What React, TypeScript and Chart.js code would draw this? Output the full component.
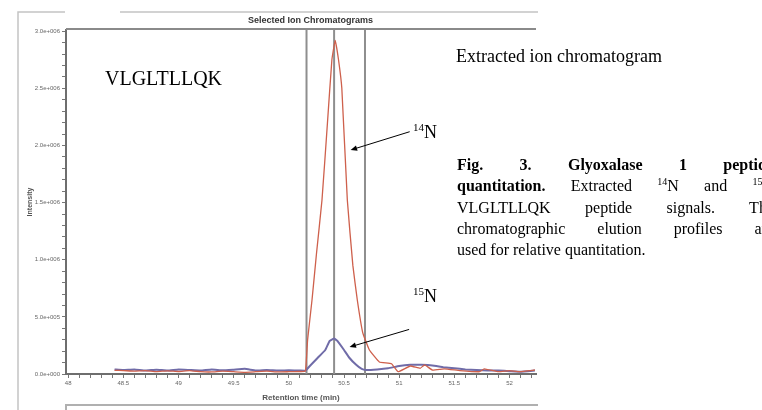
import React, { useEffect, useRef } from 'react';
import { Chart, registerables } from 'chart.js';

Chart.register(...registerables);

// 14N trace (red): retention time (min) and intensity
const redTimes = [48.42, 48.5, 48.6, 48.7, 48.8, 48.9, 49.0, 49.1, 49.2, 49.3, 49.4, 49.5, 49.6, 49.7, 49.8, 49.9, 50.0, 50.1, 50.15,
  50.17, 50.21, 50.25, 50.3, 50.35, 50.39, 50.42, 50.45, 50.48, 50.53, 50.58, 50.62, 50.67, 50.73, 50.82, 50.93, 50.99,
  51.1, 51.19, 51.23, 51.3, 51.41, 51.55, 51.73, 51.77, 51.9, 52.0, 52.09, 52.23];
const redIntensity = [3.2e4, 3.0e4, 2.5e4, 3.0e4, 2.0e4, 2.8e4, 2.2e4, 3.0e4, 2.0e4, 1.8e4, 2.5e4, 2.0e4, 1.5e4, 2.0e4, 2.5e4, 1.8e4, 2.0e4, 2.2e4, 2.5e4,
  3.0e5, 6.5e5, 1.05e6, 1.52e6, 2.2e6, 2.75e6, 2.92e6, 2.75e6, 2.5e6, 1.52e6, 9.5e5, 6.5e5, 3.6e5, 2.1e5, 1.05e5, 9.0e4, 2.0e4,
  7.0e4, 5.0e4, 8.0e4, 3.5e4, 4.5e4, 3.0e4, 2.0e4, 4.5e4, 2.0e4, 3.0e4, 2.0e4, 3.5e4];

// 15N trace (blue)
const blueTimes = [48.42, 48.5, 48.6, 48.7, 48.8, 48.9, 49.0, 49.1, 49.2, 49.3, 49.4, 49.5, 49.6, 49.7, 49.8, 49.9, 50.0, 50.1, 50.15,
  50.19, 50.26, 50.33, 50.37, 50.41, 50.44, 50.5, 50.55, 50.61, 50.66, 50.7, 50.8, 50.9, 51.0, 51.1, 51.2, 51.3, 51.4, 51.5,
  51.6, 51.7, 51.8, 51.9, 52.0, 52.1, 52.23];
const blueIntensity = [4.0e4, 3.5e4, 4.0e4, 3.0e4, 3.8e4, 3.0e4, 4.0e4, 3.5e4, 3.0e4, 4.0e4, 3.2e4, 3.8e4, 4.5e4, 3.0e4, 3.5e4, 3.0e4, 3.2e4, 3.0e4, 3.0e4,
  7.0e4, 1.4e5, 2.1e5, 2.9e5, 3.1e5, 2.9e5, 2.1e5, 1.4e5, 8.0e4, 4.4e4, 3.5e4, 4.0e4, 5.0e4, 7.0e4, 8.0e4, 8.0e4, 7.5e4, 6.0e4, 5.0e4,
  4.0e4, 3.5e4, 3.0e4, 3.0e4, 2.5e4, 2.0e4, 3.0e4];

// integration boundary / apex markers (retention time)
const markerTimes = [50.16, 50.41, 50.69];

// axis ranges and tick steps
const xMin = 47.98;
const xMax = 52.24;
const xMinorStep = 0.1;
const xLabelEvery = 5; // label every 0.5 min
const yMin = 0;
const yMax = 3.01e6;
const yMinorStep = 1e5;
const yLabelEvery = 5; // label every 5e5

// arrow annotations: [tailTime, tailIntensity, headTime, headIntensity]
const arrow14N = [51.095, 2.12e6, 50.56, 1.96e6];
const arrow15N = [51.09, 3.9e5, 50.55, 2.36e5];

const fmtExp = (v: number) => {
  const s = v.toExponential(1);
  const [m, e] = s.split('e');
  const sign = e[0];
  const digits = e.slice(1).padStart(3, '0');
  return `${m}e${sign}${digits}`;
};

const buildTicks = (min: number, max: number, step: number) => {
  const out: { value: number }[] = [];
  const i0 = Math.ceil(min / step - 1e-9);
  const i1 = Math.floor(max / step + 1e-9);
  for (let i = i0; i <= i1; i++) out.push({ value: Math.round(i * step * 1e6) / 1e6 });
  return out;
};

const decorPlugin = {
  id: 'decor',
  afterDraw(chart: any) {
    const { ctx, chartArea, scales } = chart;
    const xs = scales.x;
    const ys = scales.y;
    ctx.save();
    // plot frame top
    ctx.strokeStyle = '#8a8a8a';
    ctx.lineWidth = 2;
    ctx.beginPath();
    ctx.moveTo(chartArea.left, chartArea.top - 1);
    ctx.lineTo(chartArea.right, chartArea.top - 1);
    ctx.stroke();
    // window frame
    ctx.strokeStyle = '#c4c4c4';
    ctx.lineWidth = 1.5;
    ctx.beginPath();
    ctx.moveTo(18, 410);
    ctx.lineTo(18, 12);
    ctx.lineTo(65, 12);
    ctx.moveTo(120, 12);
    ctx.lineTo(chartArea.right + 2, 12);
    ctx.stroke();
    ctx.strokeStyle = '#b0b0b0';
    ctx.lineWidth = 2;
    ctx.beginPath();
    ctx.moveTo(66, 410);
    ctx.lineTo(66, 405);
    ctx.lineTo(chartArea.right + 2, 405);
    ctx.stroke();
    // arrows
    const drawArrow = (a: number[]) => {
      const x1 = xs.getPixelForValue(a[0]);
      const y1 = ys.getPixelForValue(a[1]);
      const x2 = xs.getPixelForValue(a[2]);
      const y2 = ys.getPixelForValue(a[3]);
      const ang = Math.atan2(y2 - y1, x2 - x1);
      const hl = 7;
      ctx.strokeStyle = '#000';
      ctx.fillStyle = '#000';
      ctx.lineWidth = 1;
      ctx.beginPath();
      ctx.moveTo(x1, y1);
      ctx.lineTo(x2 - Math.cos(ang) * 4, y2 - Math.sin(ang) * 4);
      ctx.stroke();
      ctx.beginPath();
      ctx.moveTo(x2, y2);
      ctx.lineTo(x2 - hl * Math.cos(ang - 0.4), y2 - hl * Math.sin(ang - 0.4));
      ctx.lineTo(x2 - hl * Math.cos(ang + 0.4), y2 - hl * Math.sin(ang + 0.4));
      ctx.closePath();
      ctx.fill();
    };
    drawArrow(arrow14N);
    drawArrow(arrow15N);
    ctx.restore();
  },
};

export default function App() {
  const ref = useRef<HTMLCanvasElement | null>(null);

  useEffect(() => {
    if (!ref.current) return;
    const red = redTimes.map((t, i) => ({ x: t, y: redIntensity[i] }));
    const blue = blueTimes.map((t, i) => ({ x: t, y: blueIntensity[i] }));
    const markers = markerTimes.map((t) => ({
      data: [{ x: t, y: yMin }, { x: t, y: yMax }],
      borderColor: '#8e8e8e',
      borderWidth: 2,
      pointRadius: 0,
    }));
    const chart = new Chart(ref.current, {
      type: 'line',
      data: {
        datasets: [
          { data: red, borderColor: 'rgb(206,96,76)', borderWidth: 1.3, pointRadius: 0, tension: 0.1 },
          { data: blue, borderColor: 'rgb(112,108,168)', borderWidth: 2, pointRadius: 0, tension: 0.1 },
          ...markers,
        ],
      },
      options: {
        animation: false,
        responsive: false,
        maintainAspectRatio: false,
        layout: { padding: { left: 0, top: 30, right: 226, bottom: 0 } },
        plugins: { legend: { display: false }, tooltip: { enabled: false } },
        scales: {
          x: {
            type: 'linear',
            min: xMin,
            max: xMax,
            afterFit: (s: any) => { s.height = 36; },
            afterBuildTicks: (s: any) => { s.ticks = buildTicks(xMin, xMax, xMinorStep); },
            ticks: {
              autoSkip: false,
              maxRotation: 0,
              padding: 2,
              color: '#666',
              font: { size: 6, family: 'Liberation Sans' },
              callback: (v: any) => {
                const n = Math.round(Number(v) / xMinorStep);
                return n % xLabelEvery === 0 ? String(Math.round(Number(v) * 10) / 10) : '';
              },
            },
            grid: { drawOnChartArea: false, drawTicks: true, tickLength: 4, tickColor: '#777' },
            border: { display: true, color: '#6e6e6e', width: 2 },
            title: {
              display: true,
              text: 'Retention time (min)',
              color: '#555',
              font: { size: 8, weight: 'bold', family: 'Liberation Sans' },
              padding: { top: 0, bottom: 7 },
            },
          },
          y: {
            type: 'linear',
            min: yMin,
            max: yMax,
            afterFit: (s: any) => { s.width = 66; },
            afterBuildTicks: (s: any) => { s.ticks = buildTicks(yMin, yMax, yMinorStep); },
            ticks: {
              autoSkip: false,
              padding: 2,
              color: '#666',
              font: { size: 6, family: 'Liberation Sans' },
              callback: (v: any) => {
                const n = Math.round(Number(v) / yMinorStep);
                return n % yLabelEvery === 0 ? fmtExp(n * yMinorStep) : '';
              },
            },
            grid: { drawOnChartArea: false, drawTicks: true, tickLength: 4, tickColor: '#777' },
            border: { display: true, color: '#6e6e6e', width: 2 },
            title: {
              display: true,
              text: 'Intensity',
              color: '#555',
              font: { size: 7, weight: 'bold', family: 'Liberation Sans' },
              padding: { top: 26, bottom: 0 },
            },
          },
        },
      },
      plugins: [decorPlugin],
    });
    return () => chart.destroy();
  }, []);

  const serif = '"Liberation Serif", "Times New Roman", serif';
  const capLine = (content: React.ReactNode, top: number, justify: boolean) => (
    <div
      style={{
        position: 'absolute',
        left: 457,
        top,
        width: 317,
        fontFamily: serif,
        fontSize: 16,
        lineHeight: '20px',
        textAlign: justify ? 'justify' : 'left',
        textAlignLast: justify ? 'justify' : 'left',
        whiteSpace: 'normal',
        color: '#000',
      }}
    >
      {content}
    </div>
  );

  return (
    <div style={{ position: 'absolute', left: 0, top: 0, width: 762, height: 410, overflow: 'hidden', background: '#fff' }}>
      <canvas ref={ref} width={762} height={410} style={{ position: 'absolute', left: 0, top: 0 }} />
      <div style={{ position: 'absolute', left: 248, top: 15, fontFamily: '"Liberation Sans", sans-serif', fontSize: 9, fontWeight: 'bold', color: '#333', lineHeight: '10px' }}>
        Selected Ion Chromatograms
      </div>
      <div style={{ position: 'absolute', left: 105, top: 68, fontFamily: serif, fontSize: 20, lineHeight: '20px' }}>VLGLTLLQK</div>
      <div style={{ position: 'absolute', left: 456, top: 46, fontFamily: serif, fontSize: 18, lineHeight: '20px' }}>Extracted ion chromatogram</div>
      <div style={{ position: 'absolute', left: 413, top: 117, fontFamily: serif, fontSize: 18, lineHeight: '20px' }}>
        <sup style={{ fontSize: 11 }}>14</sup>N
      </div>
      <div style={{ position: 'absolute', left: 413, top: 281, fontFamily: serif, fontSize: 18, lineHeight: '20px' }}>
        <sup style={{ fontSize: 11 }}>15</sup>N
      </div>
      {capLine(<><b>Fig. 3. Glyoxalase 1 peptide</b></>, 155, true)}
      {capLine(<><b>quantitation.</b> Extracted <sup style={{ fontSize: 10, lineHeight: 0 }}>14</sup>N and <sup style={{ fontSize: 10, lineHeight: 0 }}>15</sup>N</>, 176, true)}
      {capLine(<>VLGLTLLQK peptide signals. The</>, 197.5, true)}
      {capLine(<>chromatographic elution profiles are</>, 219, true)}
      {capLine(<>used for relative quantitation.</>, 240, false)}
    </div>
  );
}
